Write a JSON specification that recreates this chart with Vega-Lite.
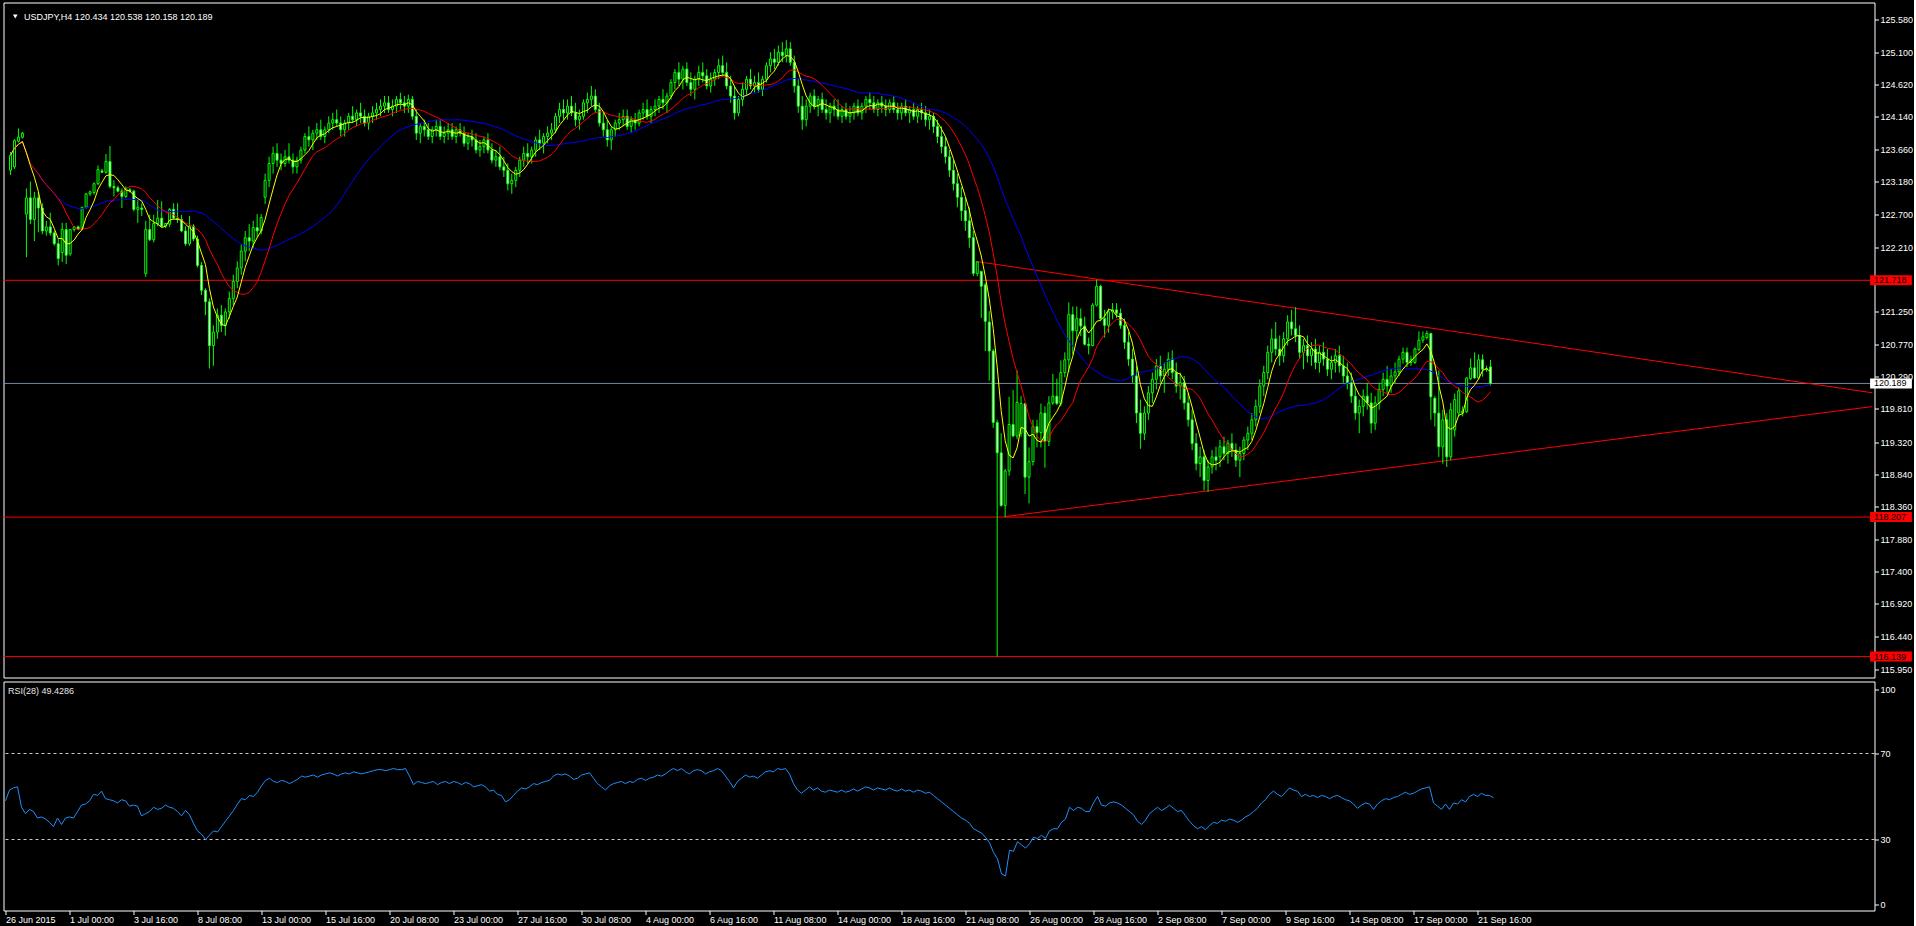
{
"$schema": "https://vega.github.io/schema/vega-lite/v6.json",
"background": "#000000",
"padding": {"left": 2.5, "top": 1.5, "right": 0, "bottom": 0},
"spacing": 2,
"config": {
  "view": {"stroke": "#FFFFFF", "strokeWidth": 1},
  "axis": {"labelFont": "Liberation Sans", "labelFontSize": 9, "labelColor": "#FFFFFF", "tickColor": "#FFFFFF", "tickSize": 4, "tickWidth": 1, "domain": false, "grid": false, "title": null, "labelFlush": false, "labelOverlap": false, "labelBound": false, "labelPadding": 1.5},
  "text": {"font": "Liberation Sans"}
},
"resolve": {"scale": {"x": "independent", "y": "independent"}},
"datasets": {
  "levels": [{"p": 121.718, "kind": "level"}, {"p": 118.207, "kind": "level"}, {"p": 116.139, "kind": "level"}, {"p": 120.189, "kind": "bid"}],
  "trend": [{"seg": "u", "i": 242.75, "p": 121.997}, {"seg": "u", "i": 468, "p": 120.05}, {"seg": "d", "i": 249.8, "p": 118.213}, {"seg": "d", "i": 468, "p": 119.846}],
  "rsilv": [{"v": 30}, {"v": 70}],
  "bars": [
{"i":0,"o":123.35,"h":123.62,"l":123.28,"c":123.57,"r":48},
{"i":1,"o":123.40,"h":123.81,"l":123.37,"c":123.79,"r":53},
{"i":2,"o":123.78,"h":123.97,"l":123.76,"c":123.84,"r":54},
{"i":3,"o":123.84,"h":123.92,"l":123.82,"c":123.90,"r":54.5},
{"i":4,"o":122.70,"h":123.08,"l":122.06,"c":122.94,"r":45},
{"i":5,"o":122.94,"h":123.18,"l":122.55,"c":122.62,"r":42},
{"i":6,"o":122.62,"h":123.03,"l":122.30,"c":122.94,"r":44},
{"i":7,"o":122.94,"h":123.03,"l":122.43,"c":122.79,"r":43},
{"i":8,"o":122.79,"h":122.86,"l":122.40,"c":122.45,"r":40},
{"i":9,"o":122.45,"h":122.60,"l":122.38,"c":122.51,"r":40.5},
{"i":10,"o":122.51,"h":122.72,"l":122.38,"c":122.42,"r":39.5},
{"i":11,"o":122.42,"h":122.45,"l":122.23,"c":122.26,"r":38},
{"i":12,"o":122.26,"h":122.33,"l":121.94,"c":122.04,"r":36},
{"i":13,"o":122.13,"h":122.57,"l":121.99,"c":122.47,"r":40},
{"i":14,"o":122.47,"h":122.57,"l":121.96,"c":122.09,"r":37},
{"i":15,"o":122.11,"h":122.48,"l":122.08,"c":122.47,"r":40},
{"i":16,"o":122.47,"h":122.52,"l":122.44,"c":122.51,"r":40.5},
{"i":17,"o":122.51,"h":122.53,"l":122.46,"c":122.48,"r":40},
{"i":18,"o":122.48,"h":122.81,"l":122.46,"c":122.80,"r":43},
{"i":19,"o":122.80,"h":123.01,"l":122.78,"c":123.00,"r":46},
{"i":20,"o":123.00,"h":123.05,"l":122.97,"c":123.03,"r":46.5},
{"i":21,"o":123.02,"h":123.17,"l":122.99,"c":123.15,"r":48},
{"i":22,"o":123.15,"h":123.42,"l":123.13,"c":123.36,"r":51},
{"i":23,"o":123.34,"h":123.37,"l":123.31,"c":123.32,"r":50.5},
{"i":24,"o":123.32,"h":123.59,"l":123.30,"c":123.48,"r":52.5},
{"i":25,"o":123.48,"h":123.71,"l":123.08,"c":123.11,"r":49},
{"i":26,"o":123.11,"h":123.20,"l":122.96,"c":123.09,"r":48.5},
{"i":27,"o":123.09,"h":123.12,"l":123.02,"c":123.04,"r":48},
{"i":28,"o":123.04,"h":123.08,"l":122.79,"c":122.96,"r":47},
{"i":29,"o":122.96,"h":123.11,"l":122.94,"c":123.08,"r":48.5},
{"i":30,"o":123.06,"h":123.09,"l":123.02,"c":123.04,"r":48},
{"i":31,"o":123.04,"h":123.06,"l":122.74,"c":122.77,"r":45.5},
{"i":32,"o":122.77,"h":122.91,"l":122.57,"c":122.80,"r":46},
{"i":33,"o":122.79,"h":122.86,"l":122.67,"c":122.77,"r":45.5},
{"i":34,"o":121.82,"h":122.60,"l":121.77,"c":122.47,"r":41},
{"i":35,"o":122.47,"h":122.69,"l":122.30,"c":122.32,"r":42},
{"i":36,"o":122.32,"h":122.69,"l":122.28,"c":122.56,"r":43},
{"i":37,"o":122.56,"h":122.91,"l":122.52,"c":122.64,"r":45},
{"i":38,"o":122.64,"h":122.89,"l":122.50,"c":122.52,"r":44},
{"i":39,"o":122.52,"h":122.57,"l":122.49,"c":122.56,"r":44.5},
{"i":40,"o":122.55,"h":122.79,"l":122.51,"c":122.77,"r":46},
{"i":41,"o":122.77,"h":122.86,"l":122.62,"c":122.64,"r":45},
{"i":42,"o":122.64,"h":122.86,"l":122.57,"c":122.62,"r":44.5},
{"i":43,"o":122.62,"h":122.69,"l":122.43,"c":122.45,"r":43},
{"i":44,"o":122.45,"h":122.52,"l":122.23,"c":122.26,"r":41},
{"i":45,"o":122.26,"h":122.67,"l":122.23,"c":122.52,"r":43.5},
{"i":46,"o":122.52,"h":122.55,"l":122.30,"c":122.33,"r":41.5},
{"i":47,"o":122.33,"h":122.38,"l":121.91,"c":121.94,"r":37.5},
{"i":48,"o":121.94,"h":121.99,"l":121.50,"c":121.57,"r":34},
{"i":49,"o":121.57,"h":121.60,"l":121.20,"c":121.40,"r":32.5},
{"i":50,"o":121.40,"h":121.45,"l":120.41,"c":120.75,"r":30},
{"i":51,"o":120.75,"h":121.05,"l":120.45,"c":120.95,"r":32},
{"i":52,"o":120.95,"h":121.30,"l":120.85,"c":121.20,"r":34},
{"i":53,"o":121.20,"h":121.35,"l":120.95,"c":121.05,"r":33.5},
{"i":54,"o":121.05,"h":121.30,"l":120.90,"c":121.25,"r":36},
{"i":55,"o":121.25,"h":121.55,"l":121.15,"c":121.45,"r":38.5},
{"i":56,"o":121.45,"h":121.80,"l":121.35,"c":121.70,"r":41},
{"i":57,"o":121.70,"h":122.00,"l":121.60,"c":121.90,"r":43.5},
{"i":58,"o":121.90,"h":122.25,"l":121.80,"c":122.15,"r":46.5},
{"i":59,"o":122.15,"h":122.45,"l":122.00,"c":122.35,"r":49},
{"i":60,"o":122.35,"h":122.55,"l":122.15,"c":122.30,"r":48.5},
{"i":61,"o":122.30,"h":122.60,"l":122.20,"c":122.50,"r":50.5},
{"i":62,"o":122.50,"h":122.70,"l":122.35,"c":122.45,"r":50},
{"i":63,"o":122.45,"h":122.70,"l":122.40,"c":122.65,"r":52},
{"i":64,"o":122.95,"h":123.30,"l":122.85,"c":123.20,"r":55},
{"i":65,"o":123.20,"h":123.55,"l":123.10,"c":123.45,"r":57.5},
{"i":66,"o":123.45,"h":123.70,"l":123.30,"c":123.60,"r":58.5},
{"i":67,"o":123.60,"h":123.75,"l":123.40,"c":123.50,"r":57},
{"i":68,"o":123.50,"h":123.60,"l":123.35,"c":123.45,"r":56.5},
{"i":69,"o":123.45,"h":123.65,"l":123.40,"c":123.55,"r":57.5},
{"i":70,"o":123.55,"h":123.75,"l":123.45,"c":123.50,"r":57},
{"i":71,"o":123.50,"h":123.60,"l":123.30,"c":123.40,"r":56},
{"i":72,"o":123.40,"h":123.55,"l":123.30,"c":123.50,"r":57},
{"i":73,"o":123.50,"h":123.70,"l":123.45,"c":123.65,"r":58},
{"i":74,"o":123.65,"h":123.90,"l":123.60,"c":123.85,"r":59.5},
{"i":75,"o":123.85,"h":124.00,"l":123.70,"c":123.80,"r":59},
{"i":76,"o":123.80,"h":123.95,"l":123.65,"c":123.90,"r":59.5},
{"i":77,"o":123.90,"h":124.05,"l":123.80,"c":123.95,"r":60},
{"i":78,"o":123.95,"h":124.10,"l":123.80,"c":123.85,"r":59},
{"i":79,"o":123.85,"h":124.00,"l":123.75,"c":123.95,"r":60},
{"i":80,"o":123.95,"h":124.15,"l":123.90,"c":124.05,"r":60.5},
{"i":81,"o":124.05,"h":124.20,"l":123.95,"c":124.10,"r":61},
{"i":82,"o":124.10,"h":124.25,"l":124.00,"c":124.05,"r":60.5},
{"i":83,"o":124.05,"h":124.15,"l":123.85,"c":123.95,"r":59.5},
{"i":84,"o":123.95,"h":124.10,"l":123.85,"c":124.05,"r":60.5},
{"i":85,"o":124.05,"h":124.20,"l":123.95,"c":124.15,"r":61},
{"i":86,"o":124.15,"h":124.30,"l":124.05,"c":124.10,"r":60.5},
{"i":87,"o":124.10,"h":124.25,"l":124.00,"c":124.20,"r":61.5},
{"i":88,"o":124.20,"h":124.35,"l":124.05,"c":124.15,"r":61},
{"i":89,"o":124.15,"h":124.25,"l":124.00,"c":124.05,"r":60.5},
{"i":90,"o":124.05,"h":124.20,"l":123.95,"c":124.15,"r":61},
{"i":91,"o":124.15,"h":124.30,"l":124.05,"c":124.20,"r":61.5},
{"i":92,"o":124.20,"h":124.35,"l":124.10,"c":124.25,"r":62},
{"i":93,"o":124.25,"h":124.40,"l":124.15,"c":124.30,"r":62.5},
{"i":94,"o":124.30,"h":124.45,"l":124.20,"c":124.35,"r":62.5},
{"i":95,"o":124.35,"h":124.45,"l":124.20,"c":124.25,"r":62},
{"i":96,"o":124.25,"h":124.40,"l":124.15,"c":124.30,"r":62.5},
{"i":97,"o":124.30,"h":124.45,"l":124.20,"c":124.40,"r":63},
{"i":98,"o":124.40,"h":124.50,"l":124.25,"c":124.35,"r":62.5},
{"i":99,"o":124.35,"h":124.45,"l":124.20,"c":124.30,"r":62.5},
{"i":100,"o":124.30,"h":124.47,"l":124.20,"c":124.40,"r":63},
{"i":101,"o":124.40,"h":124.45,"l":124.10,"c":124.15,"r":59.5},
{"i":102,"o":124.15,"h":124.25,"l":123.80,"c":123.90,"r":55.5},
{"i":103,"o":123.90,"h":124.05,"l":123.75,"c":124.00,"r":57},
{"i":104,"o":124.00,"h":124.10,"l":123.85,"c":123.95,"r":56.5},
{"i":105,"o":123.95,"h":124.05,"l":123.80,"c":123.85,"r":56},
{"i":106,"o":123.85,"h":124.00,"l":123.75,"c":123.95,"r":56.5},
{"i":107,"o":123.95,"h":124.10,"l":123.85,"c":124.00,"r":57},
{"i":108,"o":124.00,"h":124.10,"l":123.80,"c":123.85,"r":55.5},
{"i":109,"o":123.85,"h":124.00,"l":123.75,"c":123.90,"r":56.5},
{"i":110,"o":123.90,"h":124.05,"l":123.80,"c":123.95,"r":57},
{"i":111,"o":123.95,"h":124.05,"l":123.80,"c":123.85,"r":56},
{"i":112,"o":123.85,"h":124.00,"l":123.75,"c":123.95,"r":57},
{"i":113,"o":123.95,"h":124.05,"l":123.85,"c":123.90,"r":56.5},
{"i":114,"o":123.90,"h":124.00,"l":123.70,"c":123.75,"r":55.5},
{"i":115,"o":123.75,"h":123.90,"l":123.65,"c":123.85,"r":56.5},
{"i":116,"o":123.85,"h":123.95,"l":123.70,"c":123.80,"r":56},
{"i":117,"o":123.80,"h":123.90,"l":123.60,"c":123.65,"r":54.5},
{"i":118,"o":123.65,"h":123.80,"l":123.55,"c":123.70,"r":55},
{"i":119,"o":123.70,"h":123.85,"l":123.60,"c":123.80,"r":55.5},
{"i":120,"o":123.80,"h":123.90,"l":123.60,"c":123.65,"r":54.5},
{"i":121,"o":123.65,"h":123.75,"l":123.45,"c":123.50,"r":52.5},
{"i":122,"o":123.50,"h":123.65,"l":123.40,"c":123.55,"r":53},
{"i":123,"o":123.55,"h":123.70,"l":123.35,"c":123.40,"r":51},
{"i":124,"o":123.40,"h":123.55,"l":123.25,"c":123.35,"r":50.5},
{"i":125,"o":123.35,"h":123.45,"l":123.05,"c":123.15,"r":47.5},
{"i":126,"o":123.15,"h":123.30,"l":123.00,"c":123.20,"r":48.5},
{"i":127,"o":123.20,"h":123.40,"l":123.10,"c":123.35,"r":50.5},
{"i":128,"o":123.35,"h":123.55,"l":123.25,"c":123.50,"r":52.5},
{"i":129,"o":123.50,"h":123.70,"l":123.40,"c":123.60,"r":54},
{"i":130,"o":123.60,"h":123.75,"l":123.45,"c":123.55,"r":53.5},
{"i":131,"o":123.55,"h":123.70,"l":123.45,"c":123.65,"r":54.5},
{"i":132,"o":123.65,"h":123.85,"l":123.55,"c":123.80,"r":56},
{"i":133,"o":123.80,"h":123.95,"l":123.65,"c":123.75,"r":55.5},
{"i":134,"o":123.75,"h":123.90,"l":123.60,"c":123.85,"r":56.5},
{"i":135,"o":123.85,"h":124.00,"l":123.75,"c":123.90,"r":57},
{"i":136,"o":123.90,"h":124.05,"l":123.80,"c":123.95,"r":57.5},
{"i":137,"o":123.95,"h":124.20,"l":123.90,"c":124.15,"r":59.5},
{"i":138,"o":124.15,"h":124.35,"l":124.05,"c":124.25,"r":60.5},
{"i":139,"o":124.25,"h":124.40,"l":124.10,"c":124.20,"r":60},
{"i":140,"o":124.20,"h":124.40,"l":124.10,"c":124.30,"r":60.5},
{"i":141,"o":124.30,"h":124.45,"l":124.15,"c":124.20,"r":59.5},
{"i":142,"o":124.20,"h":124.35,"l":124.00,"c":124.10,"r":58},
{"i":143,"o":124.10,"h":124.25,"l":123.95,"c":124.15,"r":58.5},
{"i":144,"o":124.15,"h":124.40,"l":124.10,"c":124.35,"r":60},
{"i":145,"o":124.35,"h":124.50,"l":124.20,"c":124.40,"r":60.5},
{"i":146,"o":124.40,"h":124.60,"l":124.30,"c":124.45,"r":61},
{"i":147,"o":124.45,"h":124.55,"l":124.20,"c":124.25,"r":58.5},
{"i":148,"o":124.25,"h":124.35,"l":124.00,"c":124.05,"r":56},
{"i":149,"o":124.05,"h":124.20,"l":123.85,"c":123.95,"r":54.5},
{"i":150,"o":123.95,"h":124.10,"l":123.70,"c":123.80,"r":53},
{"i":151,"o":123.80,"h":124.00,"l":123.65,"c":123.95,"r":55},
{"i":152,"o":123.95,"h":124.10,"l":123.85,"c":124.05,"r":56},
{"i":153,"o":124.05,"h":124.20,"l":123.95,"c":124.10,"r":56.5},
{"i":154,"o":124.10,"h":124.25,"l":124.00,"c":124.15,"r":57},
{"i":155,"o":124.15,"h":124.25,"l":123.95,"c":124.00,"r":56},
{"i":156,"o":124.00,"h":124.15,"l":123.90,"c":124.10,"r":57},
{"i":157,"o":124.10,"h":124.20,"l":123.95,"c":124.05,"r":56.5},
{"i":158,"o":124.05,"h":124.25,"l":124.00,"c":124.20,"r":58},
{"i":159,"o":124.20,"h":124.35,"l":124.10,"c":124.25,"r":58.5},
{"i":160,"o":124.25,"h":124.40,"l":124.10,"c":124.15,"r":57.5},
{"i":161,"o":124.15,"h":124.30,"l":124.05,"c":124.25,"r":58.5},
{"i":162,"o":124.25,"h":124.40,"l":124.15,"c":124.30,"r":59},
{"i":163,"o":124.30,"h":124.45,"l":124.20,"c":124.40,"r":60},
{"i":164,"o":124.40,"h":124.55,"l":124.25,"c":124.35,"r":59.5},
{"i":165,"o":124.35,"h":124.50,"l":124.20,"c":124.45,"r":60.5},
{"i":166,"o":124.45,"h":124.70,"l":124.40,"c":124.65,"r":62},
{"i":167,"o":124.65,"h":124.85,"l":124.55,"c":124.80,"r":63},
{"i":168,"o":124.80,"h":124.95,"l":124.60,"c":124.70,"r":62},
{"i":169,"o":124.70,"h":124.90,"l":124.55,"c":124.85,"r":63},
{"i":170,"o":124.85,"h":124.95,"l":124.60,"c":124.65,"r":61.5},
{"i":171,"o":124.65,"h":124.80,"l":124.45,"c":124.55,"r":60.5},
{"i":172,"o":124.55,"h":124.75,"l":124.40,"c":124.70,"r":62},
{"i":173,"o":124.70,"h":124.90,"l":124.60,"c":124.80,"r":62.5},
{"i":174,"o":124.80,"h":124.95,"l":124.65,"c":124.75,"r":62},
{"i":175,"o":124.75,"h":124.85,"l":124.55,"c":124.60,"r":60.5},
{"i":176,"o":124.60,"h":124.80,"l":124.50,"c":124.70,"r":61.5},
{"i":177,"o":124.70,"h":124.85,"l":124.60,"c":124.80,"r":62},
{"i":178,"o":124.80,"h":125.00,"l":124.70,"c":124.90,"r":63},
{"i":179,"o":124.90,"h":125.05,"l":124.75,"c":124.80,"r":62},
{"i":180,"o":124.80,"h":124.95,"l":124.55,"c":124.60,"r":59.5},
{"i":181,"o":124.60,"h":124.75,"l":124.35,"c":124.45,"r":57},
{"i":182,"o":124.45,"h":124.60,"l":124.10,"c":124.20,"r":54},
{"i":183,"o":124.20,"h":124.45,"l":124.15,"c":124.40,"r":57},
{"i":184,"o":124.40,"h":124.65,"l":124.30,"c":124.55,"r":58.5},
{"i":185,"o":124.55,"h":124.75,"l":124.45,"c":124.70,"r":60},
{"i":186,"o":124.70,"h":124.85,"l":124.55,"c":124.60,"r":59},
{"i":187,"o":124.60,"h":124.75,"l":124.50,"c":124.65,"r":59.5},
{"i":188,"o":124.65,"h":124.80,"l":124.50,"c":124.55,"r":58.5},
{"i":189,"o":124.55,"h":124.75,"l":124.45,"c":124.70,"r":60},
{"i":190,"o":124.70,"h":124.95,"l":124.65,"c":124.90,"r":61.5},
{"i":191,"o":124.90,"h":125.10,"l":124.80,"c":125.00,"r":62},
{"i":192,"o":125.00,"h":125.15,"l":124.85,"c":124.95,"r":61.5},
{"i":193,"o":124.95,"h":125.20,"l":124.90,"c":125.10,"r":63},
{"i":194,"o":125.10,"h":125.25,"l":124.95,"c":125.05,"r":62.5},
{"i":195,"o":125.05,"h":125.28,"l":124.95,"c":125.15,"r":63},
{"i":196,"o":125.15,"h":125.25,"l":124.90,"c":124.95,"r":60.5},
{"i":197,"o":124.95,"h":125.05,"l":124.50,"c":124.60,"r":56},
{"i":198,"o":124.60,"h":124.70,"l":124.20,"c":124.30,"r":53},
{"i":199,"o":124.30,"h":124.45,"l":123.95,"c":124.10,"r":51.5},
{"i":200,"o":124.10,"h":124.40,"l":124.00,"c":124.30,"r":53},
{"i":201,"o":124.30,"h":124.50,"l":124.20,"c":124.45,"r":54.5},
{"i":202,"o":124.45,"h":124.55,"l":124.25,"c":124.30,"r":53},
{"i":203,"o":124.30,"h":124.45,"l":124.15,"c":124.40,"r":54},
{"i":204,"o":124.40,"h":124.50,"l":124.20,"c":124.25,"r":52.5},
{"i":205,"o":124.25,"h":124.40,"l":124.10,"c":124.20,"r":52},
{"i":206,"o":124.20,"h":124.35,"l":124.05,"c":124.30,"r":53},
{"i":207,"o":124.30,"h":124.40,"l":124.15,"c":124.25,"r":52.5},
{"i":208,"o":124.25,"h":124.40,"l":124.10,"c":124.15,"r":52},
{"i":209,"o":124.15,"h":124.30,"l":124.05,"c":124.25,"r":53},
{"i":210,"o":124.25,"h":124.35,"l":124.10,"c":124.15,"r":52},
{"i":211,"o":124.15,"h":124.30,"l":124.05,"c":124.20,"r":52.5},
{"i":212,"o":124.20,"h":124.35,"l":124.10,"c":124.30,"r":53.5},
{"i":213,"o":124.30,"h":124.40,"l":124.15,"c":124.20,"r":52.5},
{"i":214,"o":124.20,"h":124.35,"l":124.10,"c":124.30,"r":53.5},
{"i":215,"o":124.30,"h":124.45,"l":124.20,"c":124.40,"r":54.5},
{"i":216,"o":124.40,"h":124.50,"l":124.25,"c":124.35,"r":54},
{"i":217,"o":124.35,"h":124.45,"l":124.20,"c":124.25,"r":53},
{"i":218,"o":124.25,"h":124.40,"l":124.15,"c":124.35,"r":54},
{"i":219,"o":124.35,"h":124.45,"l":124.20,"c":124.30,"r":53.5},
{"i":220,"o":124.30,"h":124.40,"l":124.15,"c":124.25,"r":53},
{"i":221,"o":124.25,"h":124.40,"l":124.20,"c":124.35,"r":54},
{"i":222,"o":124.35,"h":124.45,"l":124.20,"c":124.25,"r":53},
{"i":223,"o":124.25,"h":124.35,"l":124.10,"c":124.20,"r":52.5},
{"i":224,"o":124.20,"h":124.35,"l":124.10,"c":124.30,"r":53.5},
{"i":225,"o":124.30,"h":124.40,"l":124.15,"c":124.20,"r":52.5},
{"i":226,"o":124.20,"h":124.30,"l":124.05,"c":124.25,"r":53},
{"i":227,"o":124.25,"h":124.35,"l":124.10,"c":124.15,"r":52},
{"i":228,"o":124.15,"h":124.30,"l":124.05,"c":124.25,"r":53},
{"i":229,"o":124.25,"h":124.35,"l":124.10,"c":124.20,"r":52.5},
{"i":230,"o":124.20,"h":124.30,"l":124.00,"c":124.10,"r":51.5},
{"i":231,"o":124.10,"h":124.25,"l":123.95,"c":124.15,"r":52},
{"i":232,"o":124.15,"h":124.20,"l":123.90,"c":124.00,"r":50.5},
{"i":233,"o":124.00,"h":124.10,"l":123.75,"c":123.85,"r":49},
{"i":234,"o":123.85,"h":124.00,"l":123.60,"c":123.70,"r":47.5},
{"i":235,"o":123.70,"h":123.85,"l":123.45,"c":123.55,"r":46},
{"i":236,"o":123.55,"h":123.65,"l":123.25,"c":123.35,"r":44.5},
{"i":237,"o":123.35,"h":123.50,"l":123.05,"c":123.15,"r":43},
{"i":238,"o":123.15,"h":123.30,"l":122.80,"c":122.95,"r":41.5},
{"i":239,"o":122.95,"h":123.10,"l":122.60,"c":122.75,"r":40},
{"i":240,"o":122.75,"h":122.95,"l":122.45,"c":122.60,"r":39},
{"i":241,"o":122.60,"h":122.80,"l":122.20,"c":122.35,"r":37.5},
{"i":242,"o":122.35,"h":122.45,"l":121.78,"c":121.82,"r":35},
{"i":243,"o":121.82,"h":122.00,"l":121.78,"c":121.99,"r":34},
{"i":244,"o":121.85,"h":121.86,"l":121.16,"c":121.63,"r":33},
{"i":245,"o":121.65,"h":121.68,"l":120.67,"c":121.11,"r":31},
{"i":246,"o":121.10,"h":121.26,"l":120.23,"c":120.67,"r":28.5},
{"i":247,"o":120.67,"h":120.70,"l":119.53,"c":119.61,"r":24},
{"i":248,"o":119.61,"h":119.65,"l":116.139,"c":119.16,"r":21},
{"i":249,"o":119.16,"h":119.45,"l":118.36,"c":118.38,"r":14},
{"i":250,"o":118.38,"h":118.92,"l":118.207,"c":118.89,"r":13},
{"i":251,"o":118.89,"h":119.99,"l":118.82,"c":119.58,"r":25},
{"i":252,"o":119.58,"h":120.09,"l":119.39,"c":119.41,"r":24.5},
{"i":253,"o":119.41,"h":120.38,"l":119.36,"c":119.91,"r":29},
{"i":254,"o":119.45,"h":120.00,"l":119.40,"c":119.89,"r":27.5},
{"i":255,"o":119.89,"h":119.90,"l":118.55,"c":118.80,"r":26},
{"i":256,"o":118.80,"h":119.24,"l":118.41,"c":119.03,"r":28},
{"i":257,"o":119.03,"h":119.65,"l":118.97,"c":119.55,"r":31},
{"i":258,"o":119.55,"h":119.65,"l":119.24,"c":119.46,"r":30.5},
{"i":259,"o":119.46,"h":119.89,"l":119.24,"c":119.75,"r":32},
{"i":260,"o":119.75,"h":119.85,"l":118.94,"c":119.33,"r":30.5},
{"i":261,"o":119.33,"h":120.00,"l":119.26,"c":119.90,"r":34},
{"i":262,"o":119.90,"h":120.33,"l":119.87,"c":120.00,"r":35},
{"i":263,"o":120.00,"h":120.26,"l":119.87,"c":119.89,"r":35},
{"i":264,"o":119.89,"h":120.53,"l":119.85,"c":120.35,"r":38},
{"i":265,"o":120.35,"h":120.65,"l":120.28,"c":120.54,"r":39.5},
{"i":266,"o":120.54,"h":121.39,"l":120.36,"c":121.21,"r":45},
{"i":267,"o":121.21,"h":121.33,"l":120.62,"c":120.97,"r":43.5},
{"i":268,"o":120.97,"h":121.33,"l":120.84,"c":121.15,"r":45},
{"i":269,"o":121.15,"h":121.30,"l":120.89,"c":121.04,"r":44.5},
{"i":270,"o":121.04,"h":121.18,"l":120.75,"c":120.77,"r":43},
{"i":271,"o":120.77,"h":120.87,"l":120.62,"c":120.75,"r":43},
{"i":272,"o":120.75,"h":121.38,"l":120.74,"c":121.35,"r":47},
{"i":273,"o":121.35,"h":121.73,"l":121.33,"c":121.63,"r":50},
{"i":274,"o":121.63,"h":121.65,"l":121.11,"c":121.15,"r":46},
{"i":275,"o":121.15,"h":121.28,"l":120.87,"c":121.05,"r":45.5},
{"i":276,"o":121.05,"h":121.30,"l":120.94,"c":121.25,"r":47},
{"i":277,"o":121.25,"h":121.38,"l":121.14,"c":121.28,"r":47.5},
{"i":278,"o":121.28,"h":121.38,"l":121.16,"c":121.23,"r":47},
{"i":279,"o":121.23,"h":121.30,"l":121.00,"c":121.05,"r":46},
{"i":280,"o":121.05,"h":121.15,"l":120.70,"c":120.80,"r":44.5},
{"i":281,"o":120.80,"h":120.95,"l":120.45,"c":120.55,"r":43},
{"i":282,"o":120.55,"h":120.70,"l":120.20,"c":120.30,"r":41.5},
{"i":283,"o":120.30,"h":120.45,"l":119.60,"c":119.75,"r":38.5},
{"i":284,"o":119.75,"h":119.95,"l":119.22,"c":119.45,"r":37},
{"i":285,"o":119.45,"h":119.85,"l":119.35,"c":119.75,"r":39},
{"i":286,"o":119.75,"h":120.15,"l":119.65,"c":120.05,"r":42},
{"i":287,"o":120.05,"h":120.35,"l":119.90,"c":120.25,"r":43.5},
{"i":288,"o":120.25,"h":120.55,"l":120.10,"c":120.45,"r":45},
{"i":289,"o":120.45,"h":120.60,"l":120.20,"c":120.30,"r":43.5},
{"i":290,"o":120.30,"h":120.50,"l":120.05,"c":120.40,"r":44.5},
{"i":291,"o":120.40,"h":120.65,"l":120.30,"c":120.55,"r":46},
{"i":292,"o":120.55,"h":120.68,"l":120.25,"c":120.35,"r":44.5},
{"i":293,"o":120.35,"h":120.50,"l":120.05,"c":120.15,"r":43},
{"i":294,"o":120.15,"h":120.35,"l":119.95,"c":120.20,"r":43.5},
{"i":295,"o":120.20,"h":120.30,"l":119.80,"c":119.90,"r":41},
{"i":296,"o":119.90,"h":120.05,"l":119.55,"c":119.65,"r":38.5},
{"i":297,"o":119.65,"h":119.80,"l":119.20,"c":119.30,"r":36.5},
{"i":298,"o":119.30,"h":119.45,"l":118.90,"c":119.00,"r":35},
{"i":299,"o":119.00,"h":119.25,"l":118.80,"c":119.10,"r":36},
{"i":300,"o":119.10,"h":119.20,"l":118.60,"c":118.75,"r":34.5},
{"i":301,"o":118.75,"h":119.05,"l":118.58,"c":118.95,"r":36.5},
{"i":302,"o":118.95,"h":119.20,"l":118.85,"c":119.10,"r":38},
{"i":303,"o":119.10,"h":119.25,"l":118.90,"c":119.05,"r":37.5},
{"i":304,"o":119.10,"h":119.35,"l":118.95,"c":119.25,"r":39},
{"i":305,"o":119.25,"h":119.40,"l":119.05,"c":119.15,"r":38.5},
{"i":306,"o":119.15,"h":119.35,"l":119.00,"c":119.30,"r":39.5},
{"i":307,"o":119.30,"h":119.45,"l":119.10,"c":119.20,"r":39},
{"i":308,"o":119.20,"h":119.30,"l":118.95,"c":119.05,"r":38},
{"i":309,"o":119.05,"h":119.25,"l":118.80,"c":119.15,"r":39},
{"i":310,"o":119.15,"h":119.40,"l":119.05,"c":119.35,"r":40.5},
{"i":311,"o":119.35,"h":119.55,"l":119.20,"c":119.45,"r":41.5},
{"i":312,"o":119.45,"h":119.75,"l":119.35,"c":119.65,"r":43},
{"i":313,"o":119.65,"h":119.95,"l":119.55,"c":119.85,"r":44.5},
{"i":314,"o":119.85,"h":120.25,"l":119.75,"c":120.15,"r":47},
{"i":315,"o":120.15,"h":120.45,"l":120.00,"c":120.35,"r":48.5},
{"i":316,"o":120.35,"h":120.75,"l":120.25,"c":120.65,"r":51},
{"i":317,"o":120.65,"h":121.00,"l":120.50,"c":120.85,"r":52.5},
{"i":318,"o":120.85,"h":121.10,"l":120.60,"c":120.70,"r":51},
{"i":319,"o":120.70,"h":120.90,"l":120.45,"c":120.60,"r":50},
{"i":320,"o":120.60,"h":120.95,"l":120.50,"c":120.85,"r":52},
{"i":321,"o":120.85,"h":121.20,"l":120.75,"c":121.10,"r":54},
{"i":322,"o":121.10,"h":121.28,"l":120.90,"c":121.00,"r":53},
{"i":323,"o":121.00,"h":121.32,"l":120.80,"c":120.90,"r":52.5},
{"i":324,"o":120.90,"h":121.05,"l":120.55,"c":120.65,"r":50},
{"i":325,"o":120.65,"h":120.85,"l":120.40,"c":120.75,"r":51},
{"i":326,"o":120.75,"h":120.90,"l":120.50,"c":120.60,"r":50},
{"i":327,"o":120.60,"h":120.80,"l":120.45,"c":120.70,"r":50.5},
{"i":328,"o":120.70,"h":120.85,"l":120.40,"c":120.50,"r":49.5},
{"i":329,"o":120.50,"h":120.75,"l":120.35,"c":120.65,"r":50.5},
{"i":330,"o":120.65,"h":120.80,"l":120.45,"c":120.55,"r":50},
{"i":331,"o":120.55,"h":120.70,"l":120.30,"c":120.40,"r":49},
{"i":332,"o":120.40,"h":120.60,"l":120.25,"c":120.50,"r":50},
{"i":333,"o":120.50,"h":120.70,"l":120.35,"c":120.60,"r":50.5},
{"i":334,"o":120.60,"h":120.75,"l":120.35,"c":120.45,"r":49.5},
{"i":335,"o":120.45,"h":120.60,"l":120.20,"c":120.30,"r":48.5},
{"i":336,"o":120.30,"h":120.50,"l":120.10,"c":120.20,"r":48},
{"i":337,"o":120.20,"h":120.35,"l":119.90,"c":120.00,"r":46.5},
{"i":338,"o":120.00,"h":120.15,"l":119.65,"c":119.75,"r":44.5},
{"i":339,"o":119.75,"h":119.95,"l":119.45,"c":119.85,"r":46},
{"i":340,"o":119.85,"h":120.10,"l":119.70,"c":120.00,"r":47},
{"i":341,"o":120.00,"h":120.20,"l":119.80,"c":119.90,"r":46.5},
{"i":342,"o":119.90,"h":120.05,"l":119.45,"c":119.60,"r":44},
{"i":343,"o":119.60,"h":120.00,"l":119.50,"c":119.90,"r":46.5},
{"i":344,"o":119.90,"h":120.20,"l":119.80,"c":120.10,"r":48},
{"i":345,"o":120.10,"h":120.35,"l":120.00,"c":120.25,"r":49},
{"i":346,"o":120.25,"h":120.45,"l":120.05,"c":120.15,"r":48.5},
{"i":347,"o":120.15,"h":120.40,"l":120.05,"c":120.30,"r":49.5},
{"i":348,"o":120.30,"h":120.50,"l":120.20,"c":120.36,"r":50},
{"i":349,"o":120.36,"h":120.60,"l":120.30,"c":120.55,"r":51},
{"i":350,"o":120.55,"h":120.72,"l":120.48,"c":120.65,"r":52},
{"i":351,"o":120.65,"h":120.72,"l":120.43,"c":120.50,"r":51},
{"i":352,"o":120.50,"h":120.60,"l":120.45,"c":120.54,"r":51.5},
{"i":353,"o":120.50,"h":120.72,"l":120.48,"c":120.70,"r":52.5},
{"i":354,"o":120.69,"h":120.96,"l":120.67,"c":120.83,"r":53.5},
{"i":355,"o":120.83,"h":120.96,"l":120.79,"c":120.88,"r":54},
{"i":356,"o":120.87,"h":120.97,"l":120.84,"c":120.93,"r":54.5},
{"i":357,"o":120.93,"h":120.94,"l":119.65,"c":119.99,"r":47},
{"i":358,"o":119.97,"h":120.00,"l":119.55,"c":119.75,"r":45.5},
{"i":359,"o":119.75,"h":120.38,"l":119.10,"c":119.25,"r":44},
{"i":360,"o":119.25,"h":119.80,"l":119.00,"c":119.65,"r":46.5},
{"i":361,"o":119.65,"h":119.75,"l":118.95,"c":119.10,"r":44},
{"i":362,"o":119.10,"h":119.90,"l":119.05,"c":119.80,"r":47},
{"i":363,"o":119.50,"h":120.04,"l":119.40,"c":119.95,"r":46.5},
{"i":364,"o":119.75,"h":120.13,"l":119.70,"c":120.08,"r":48.5},
{"i":365,"o":119.75,"h":119.85,"l":119.70,"c":119.78,"r":47.5},
{"i":366,"o":119.77,"h":120.28,"l":119.75,"c":120.27,"r":50},
{"i":367,"o":120.26,"h":120.56,"l":120.24,"c":120.42,"r":51},
{"i":368,"o":120.42,"h":120.65,"l":120.26,"c":120.27,"r":50},
{"i":369,"o":120.27,"h":120.62,"l":120.26,"c":120.54,"r":51.5},
{"i":370,"o":120.54,"h":120.62,"l":120.29,"c":120.40,"r":50.5},
{"i":371,"o":120.40,"h":120.45,"l":120.36,"c":120.41,"r":50.5},
{"i":372,"o":120.434,"h":120.538,"l":120.158,"c":120.189,"r":49.4286}
  ]
},
"vconcat": [
  {
    "width": 1871,
    "height": 675,
    "layer": [
      {
        "data": {"name": "levels"},
        "mark": {"type": "rule", "strokeWidth": 1},
        "encoding": {
          "y": {"field": "p", "type": "quantitative", "scale": {"domain": [115.903, 125.763], "nice": false, "zero": false},
                "axis": {"orient": "right", "values": [125.58, 125.1, 124.62, 124.14, 123.66, 123.18, 122.7, 122.21, 121.25, 120.77, 120.29, 119.81, 119.32, 118.84, 118.36, 117.88, 117.4, 116.92, 116.44, 115.95], "tickCount": 100, "format": ".3f", "labelBaseline": "middle", "labelOverlap": false, "labelFlush": false, "labelBound": false}},
          "color": {"field": "kind", "type": "nominal", "scale": {"domain": ["level", "bid"], "range": ["#FF0000", "#778899"]}, "legend": null}
        }
      },
      {
        "data": {"name": "trend"},
        "mark": {"type": "line", "color": "#FF0000", "strokeWidth": 1, "clip": true},
        "encoding": {
          "x": {"field": "i", "type": "quantitative", "scale": {"domain": [-0.5, 467.25], "nice": false, "zero": false}, "axis": null},
          "y": {"field": "p", "type": "quantitative"},
          "detail": {"field": "seg", "type": "nominal"}
        }
      },
      {
        "data": {"name": "bars"},
        "mark": {"type": "rule", "color": "#00FF00", "strokeWidth": 1},
        "encoding": {
          "x": {"field": "i", "type": "quantitative"},
          "y": {"field": "l", "type": "quantitative"},
          "y2": {"field": "h"}
        }
      },
      {
        "data": {"name": "bars"},
        "mark": {"type": "bar", "width": 2, "stroke": "#00FF00", "strokeWidth": 1},
        "encoding": {
          "x": {"field": "i", "type": "quantitative"},
          "y": {"field": "o", "type": "quantitative"},
          "y2": {"field": "c"},
          "fill": {"condition": {"test": "datum.c < datum.o", "value": "#FFFFFF"}, "value": "#000000"}
        }
      },
      {
        "data": {"name": "bars"},
        "transform": [{"window": [{"op": "mean", "field": "c", "as": "m"}], "frame": [-33, 0], "sort": [{"field": "i"}]}],
        "mark": {"type": "line", "color": "#0000FF", "strokeWidth": 1},
        "encoding": {
          "x": {"field": "i", "type": "quantitative"},
          "y": {"field": "m", "type": "quantitative"}
        }
      },
      {
        "data": {"name": "bars"},
        "transform": [{"window": [{"op": "mean", "field": "c", "as": "m"}], "frame": [-12, 0], "sort": [{"field": "i"}]}],
        "mark": {"type": "line", "color": "#FF0000", "strokeWidth": 1},
        "encoding": {
          "x": {"field": "i", "type": "quantitative"},
          "y": {"field": "m", "type": "quantitative"}
        }
      },
      {
        "data": {"name": "bars"},
        "transform": [{"window": [{"op": "mean", "field": "c", "as": "m"}], "frame": [-4, 0], "sort": [{"field": "i"}]}],
        "mark": {"type": "line", "color": "#FFFF00", "strokeWidth": 1},
        "encoding": {
          "x": {"field": "i", "type": "quantitative"},
          "y": {"field": "m", "type": "quantitative"}
        }
      },
      {
        "data": {"name": "levels"},
        "mark": {"type": "bar", "height": 10},
        "encoding": {
          "y": {"field": "p", "type": "quantitative"},
          "x": {"datum": 467.4, "type": "quantitative"},
          "x2": {"datum": 477.9},
          "fill": {"field": "kind", "type": "nominal", "scale": {"domain": ["level", "bid"], "range": ["#FF0000", "#FFFFFF"]}, "legend": null}
        }
      },
      {
        "data": {"name": "levels"},
        "mark": {"type": "text", "align": "left", "baseline": "middle", "fontSize": 9, "color": "#000000", "font": "Liberation Sans"},
        "encoding": {
          "y": {"field": "p", "type": "quantitative"},
          "x": {"datum": 468.4, "type": "quantitative"},
          "text": {"field": "p", "type": "quantitative", "format": ".3f"}
        }
      },
      {
        "data": {"values": [{"t": "USDJPY,H4  120.434 120.538 120.158 120.189"}]},
        "mark": {"type": "text", "align": "left", "baseline": "middle", "fontSize": 9, "color": "#FFFFFF", "font": "Liberation Sans"},
        "encoding": {
          "x": {"datum": 3.4, "type": "quantitative"},
          "y": {"datum": 125.628, "type": "quantitative"},
          "text": {"field": "t", "type": "nominal"}
        }
      },
      {
        "data": {"values": [{"t": "menu"}]},
        "mark": {"type": "point", "shape": "triangle-down", "filled": true, "color": "#FFFFFF", "size": 22, "opacity": 1},
        "encoding": {
          "x": {"datum": 1.2, "type": "quantitative"},
          "y": {"datum": 125.63, "type": "quantitative"}
        }
      }
    ]
  },
  {
    "width": 1871,
    "height": 229,
    "layer": [
      {
        "data": {"name": "rsilv"},
        "mark": {"type": "rule", "color": "#C8C8C8", "strokeWidth": 1, "strokeDash": [3, 3]},
        "encoding": {
          "y": {"field": "v", "type": "quantitative", "scale": {"domain": [-3.02, 103.49], "nice": false, "zero": false},
                "axis": {"orient": "right", "values": [0, 30, 70, 100], "tickCount": 100, "format": "d", "labelBaseline": "middle", "labelOverlap": false}}
        }
      },
      {
        "data": {"name": "bars"},
        "mark": {"type": "line", "color": "#1E90FF", "strokeWidth": 1},
        "encoding": {
          "x": {"field": "i", "type": "quantitative", "scale": {"domain": [-0.5, 467.25], "nice": false, "zero": false},
                "axis": {"orient": "bottom", "values": [0, 16, 32, 48, 64, 80, 96, 112, 128, 144, 160, 176, 192, 208, 224, 240, 256, 272, 288, 304, 320, 336, 352, 368], "tickCount": 100,
                         "labelExpr": "['26 Jun 2015','1 Jul 00:00','3 Jul 16:00','8 Jul 08:00','13 Jul 00:00','15 Jul 16:00','20 Jul 08:00','23 Jul 00:00','27 Jul 16:00','30 Jul 08:00','4 Aug 00:00','6 Aug 16:00','11 Aug 08:00','14 Aug 00:00','18 Aug 16:00','21 Aug 08:00','26 Aug 00:00','28 Aug 16:00','2 Sep 08:00','7 Sep 00:00','9 Sep 16:00','14 Sep 08:00','17 Sep 00:00','21 Sep 16:00'][round(datum.value/16)]",
                         "labelAlign": "left", "labelBaseline": "top", "labelPadding": 1, "labelOverlap": false}},
          "y": {"field": "r", "type": "quantitative"}
        }
      },
      {
        "data": {"values": [{"t": "RSI(28) 49.4286"}]},
        "mark": {"type": "text", "align": "left", "baseline": "middle", "fontSize": 9, "color": "#E6E6E6", "font": "Liberation Sans"},
        "encoding": {
          "x": {"datum": 0.6, "type": "quantitative"},
          "y": {"datum": 99, "type": "quantitative"},
          "text": {"field": "t", "type": "nominal"}
        }
      }
    ]
  }
]
}
